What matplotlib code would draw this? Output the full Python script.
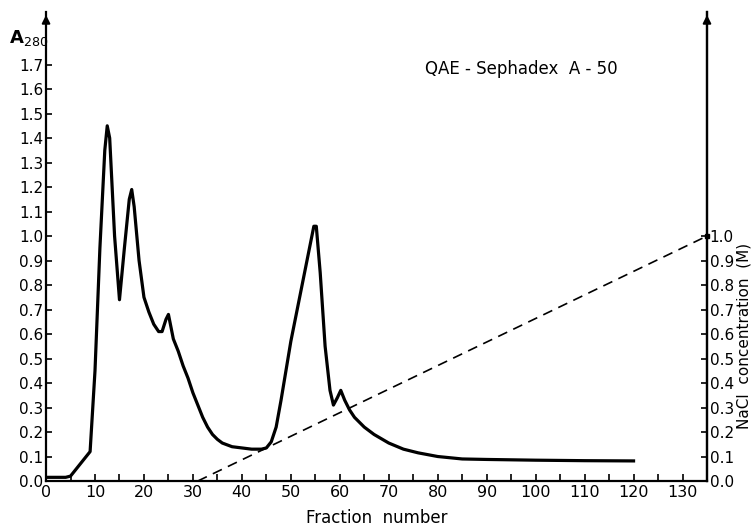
import numpy as np
import matplotlib.pyplot as plt
from matplotlib.ticker import MultipleLocator

# ------------------------------------------------------------
# Elution profile
# ------------------------------------------------------------
fraction = [0, 2, 4, 5, 7, 9, 10, 11, 12, 12.5, 13, 14, 15, 16, 17, 17.5,
            18, 19, 20, 21, 22, 23, 23.7, 24.5, 25, 26, 27, 28, 29, 30, 31,
            32, 33, 34, 35, 36, 38, 40, 42, 44, 45, 46, 47, 48, 49, 50, 51,
            52, 53, 54, 54.7, 55.2, 56, 57, 58, 58.7, 59.5, 60.2, 61, 62,
            63, 65, 67, 70, 73, 76, 80, 85, 90, 100, 110, 120]
a280 = [0.015, 0.015, 0.015, 0.02, 0.07, 0.12, 0.45, 0.95, 1.35, 1.45,
        1.40, 1.00, 0.74, 0.95, 1.15, 1.19, 1.12, 0.90, 0.75, 0.69, 0.64,
        0.61, 0.61, 0.66, 0.68, 0.58, 0.53, 0.47, 0.42, 0.36, 0.31, 0.26,
        0.22, 0.19, 0.17, 0.155, 0.14, 0.135, 0.13, 0.13, 0.135, 0.16,
        0.22, 0.33, 0.45, 0.57, 0.67, 0.77, 0.87, 0.97, 1.04, 1.04, 0.85,
        0.55, 0.37, 0.31, 0.34, 0.37, 0.33, 0.29, 0.26, 0.22, 0.19, 0.155,
        0.13, 0.115, 0.10, 0.09, 0.088, 0.085, 0.083, 0.082]

# salt gradient (dashed)
nacl_fraction = [31, 135]
nacl_conc = [0.0, 1.0]

a_ticks = np.arange(0, 18) / 10.0
a_labels = [f"{v:.1f}" for v in a_ticks]
nacl_ticks = np.arange(0, 11) / 10.0
nacl_labels = [f"{v:.1f}" for v in nacl_ticks]

# ------------------------------------------------------------
fig = plt.figure(figsize=(7.51, 5.28), dpi=100)
ax = fig.add_axes([0.0613, 0.089, 0.8801, 0.888])
ymax = 1.914

ax.plot(fraction, a280, color="black", lw=2.3, solid_joinstyle="round")
ax.plot(nacl_fraction, nacl_conc, color="black", lw=1.2, ls=(0, (6, 4)))
ax.plot([135], [1.0], "s", color="black", ms=3, clip_on=False)

ax.set_xlim(0, 135)
ax.set_ylim(0, ymax)

for s in ["left", "right", "bottom"]:
    ax.spines[s].set_linewidth(1.6)
ax.spines["top"].set_visible(False)

ax.xaxis.set_minor_locator(MultipleLocator(5))
ax.set_xticks(np.arange(0, 140, 10))
ax.set_xticklabels([str(v) for v in range(0, 140, 10)])
ax.tick_params(axis="x", which="both", direction="in", length=5, width=1.2,
               labelsize=11.5, pad=3)
ax.set_yticks(a_ticks)
ax.set_yticklabels(a_labels)
ax.tick_params(axis="y", which="both", direction="in", length=4, width=1.2,
               labelsize=11, pad=2)

ax2 = ax.twinx()
ax2.set_ylim(0, ymax)
ax2.set_yticks(nacl_ticks)
ax2.set_yticklabels(nacl_labels)
ax2.tick_params(axis="y", direction="in", length=4, width=1.2,
                labelsize=11, pad=2)
for s in ["left", "top", "bottom"]:
    ax2.spines[s].set_visible(False)
ax2.spines["right"].set_linewidth(1.6)

# arrow heads on the vertical axes
for xa in (0, 1):
    ax.annotate("", xy=(xa, 1.0), xytext=(xa, 0.96),
                xycoords="axes fraction", textcoords="axes fraction",
                arrowprops=dict(arrowstyle="-|>", color="black", lw=1.4,
                                mutation_scale=12))

ax.set_xlabel("Fraction  number", fontsize=12, labelpad=6)
fig.text(0.012, 0.918, r"A$_{280}$", fontsize=13, fontweight="bold")
ax.text(97, 1.68, "QAE - Sephadex  A - 50", fontsize=12, ha="center",
        va="center")
ax2.set_ylabel("NaCl  concentration  (M)", fontsize=11, labelpad=2,
               y=0.31)

fig.savefig("out.png", dpi=100)
